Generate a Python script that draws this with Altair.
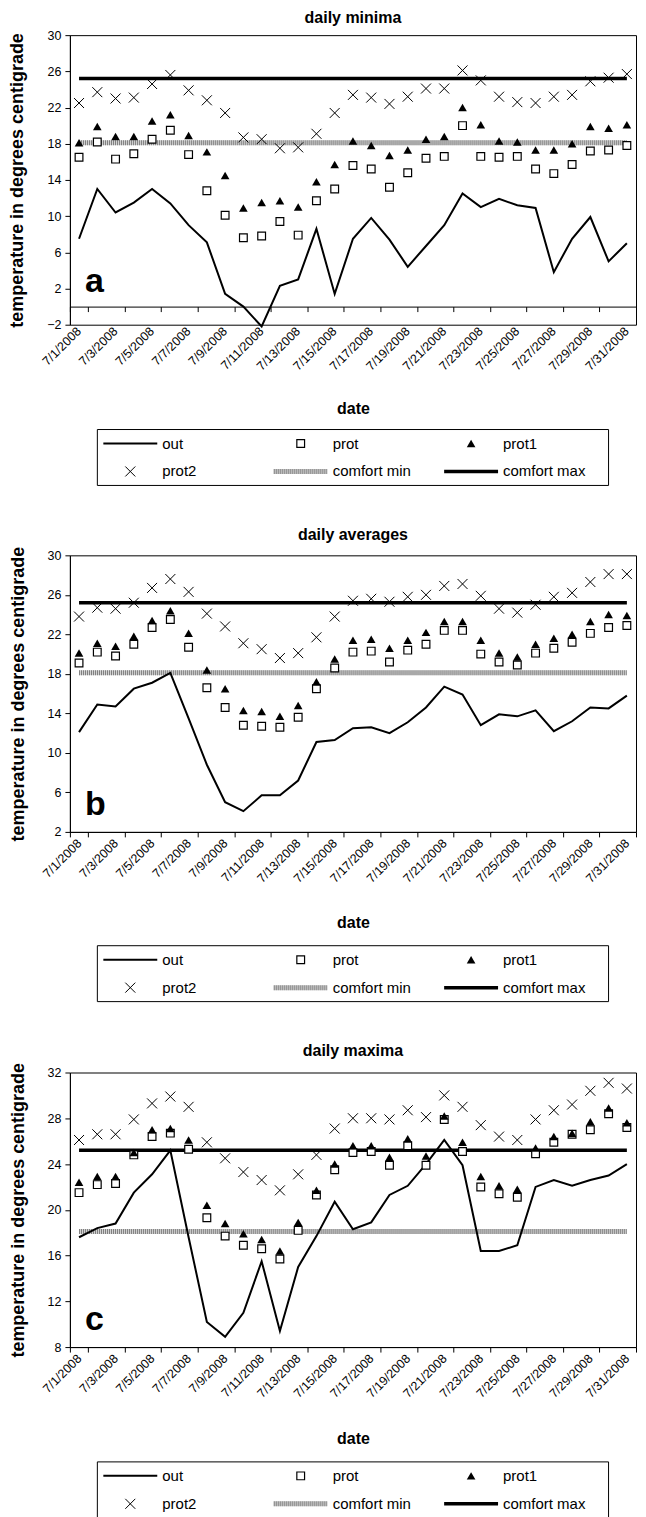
import altair as alt
import pandas as pd

FONT = "Liberation Sans"

dates = ["7/1/2008", "7/2/2008", "7/3/2008", "7/4/2008", "7/5/2008", "7/6/2008", "7/7/2008",
         "7/8/2008", "7/9/2008", "7/10/2008", "7/11/2008", "7/12/2008", "7/13/2008", "7/14/2008",
         "7/15/2008", "7/16/2008", "7/17/2008", "7/18/2008", "7/19/2008", "7/20/2008", "7/21/2008",
         "7/22/2008", "7/23/2008", "7/24/2008", "7/25/2008", "7/26/2008", "7/27/2008", "7/28/2008",
         "7/29/2008", "7/30/2008", "7/31/2008"]
label_dates = ["7/1/2008", "7/3/2008", "7/5/2008", "7/7/2008", "7/9/2008", "7/11/2008", "7/13/2008",
               "7/15/2008", "7/17/2008", "7/19/2008", "7/21/2008", "7/23/2008", "7/25/2008",
               "7/27/2008", "7/29/2008", "7/31/2008"]

COMFORT_MIN = 18.1
COMFORT_MAX = 25.2

# daily minima
min_out = [7.5, 13.0, 10.4, 11.5, 13.0, 11.4, 9.0, 7.1, 1.4, 0.0, -2.2, 2.3, 3.0, 8.6, 1.4, 7.5,
           9.8, 7.4, 4.4, 6.7, 9.0, 12.5, 11.0, 11.9, 11.2, 10.9, 3.8, 7.5, 9.9, 5.0, 7.0]
min_prot = [16.5, 18.2, 16.3, 16.9, 18.5, 19.5, 16.8, 12.8, 10.1, 7.6, 7.8, 9.4, 7.9, 11.7, 13.0, 15.6,
            15.2, 13.2, 14.8, 16.4, 16.6, 20.0, 16.6, 16.5, 16.6, 15.2, 14.7, 15.7, 17.2, 17.3, 17.8]
min_prot1 = [18.1, 19.9, 18.8, 18.8, 20.5, 21.2, 18.9, 17.1, 14.5, 10.9, 11.5, 11.7, 11.0, 13.8, 15.7, 18.3,
             17.8, 16.7, 17.3, 18.5, 18.8, 22.0, 20.1, 18.3, 18.2, 17.3, 17.3, 18.0, 19.9, 19.7, 20.1]
min_prot2 = [22.5, 23.7, 23.0, 23.1, 24.6, 25.6, 23.9, 22.8, 21.4, 18.7, 18.5, 17.5, 17.6, 19.1, 21.4, 23.4,
             23.1, 22.4, 23.2, 24.1, 24.1, 26.1, 25.0, 23.2, 22.6, 22.5, 23.2, 23.4, 24.9, 25.3, 25.7]

# daily averages
avg_out = [12.1, 14.9, 14.7, 16.5, 17.1, 18.1, 13.5, 8.8, 5.0, 4.1, 5.7, 5.7, 7.2, 11.1, 11.3, 12.5,
           12.6, 12.0, 13.1, 14.6, 16.7, 15.9, 12.8, 13.9, 13.7, 14.3, 12.2, 13.2, 14.6, 14.5, 15.8]
avg_prot = [19.1, 20.2, 19.8, 21.0, 22.7, 23.5, 20.7, 16.6, 14.6, 12.8, 12.7, 12.6, 13.6, 16.5, 18.6, 20.2,
            20.3, 19.2, 20.4, 21.0, 22.4, 22.4, 20.0, 19.2, 18.9, 20.1, 20.6, 21.2, 22.1, 22.7, 22.9]
avg_prot1 = [20.1, 21.1, 20.8, 21.8, 23.4, 24.4, 22.1, 18.4, 16.5, 14.3, 14.2, 13.7, 14.8, 17.2, 19.5, 21.4,
             21.5, 20.6, 21.4, 22.2, 23.3, 23.3, 21.4, 20.1, 19.7, 21.0, 21.6, 22.0, 23.3, 24.0, 23.9]
avg_prot2 = [23.8, 24.7, 24.6, 25.2, 26.7, 27.6, 26.3, 24.1, 22.8, 21.1, 20.5, 19.6, 20.1, 21.7, 23.8, 25.4,
             25.6, 25.3, 25.8, 26.0, 26.9, 27.1, 25.9, 24.6, 24.2, 25.0, 25.8, 26.2, 27.3, 28.1, 28.1]

# daily maxima
max_out = [17.6, 18.4, 18.8, 21.5, 23.1, 25.2, 17.6, 10.2, 8.9, 11.0, 15.5, 9.4, 15.0, 17.7, 20.7, 18.3,
           18.9, 21.3, 22.1, 24.0, 26.1, 23.9, 16.4, 16.4, 16.9, 22.0, 22.6, 22.1, 22.6, 23.0, 24.0]
max_prot = [21.5, 22.2, 22.3, 24.8, 26.4, 26.7, 25.3, 19.3, 17.7, 16.9, 16.6, 15.7, 18.2, 21.3, 23.5, 25.0,
            25.1, 23.9, 25.6, 23.9, 27.9, 25.1, 22.0, 21.4, 21.1, 24.9, 25.9, 26.6, 27.0, 28.4, 27.2]
max_prot1 = [22.4, 22.9, 22.9, 25.0, 27.0, 27.1, 26.1, 20.4, 18.8, 17.9, 17.4, 16.4, 18.9, 21.7, 24.0, 25.6,
             25.6, 24.6, 26.2, 24.7, 28.2, 25.9, 22.9, 22.1, 21.8, 25.4, 26.4, 26.7, 27.7, 28.9, 27.6]
max_prot2 = [26.1, 26.6, 26.6, 27.9, 29.3, 29.9, 29.0, 25.9, 24.5, 23.3, 22.6, 21.7, 23.1, 24.8, 27.1, 28.0,
             28.0, 27.9, 28.7, 28.1, 30.0, 29.0, 27.4, 26.4, 26.1, 27.9, 28.7, 29.2, 30.4, 31.1, 30.6]

legend_names = ["out", "prot", "prot1", "prot2", "comfort min", "comfort max"]
legend_cols = [0, 1, 2, 0, 1, 2]
legend_rows = [0, 0, 0, 1, 1, 1]

PW = 567          # plot width
LEG_COLW = 170.67  # legend column width
LH = 56           # legend height

CROSS = "M-1,-1L1,1M-1,1L1,-1"
CMIN_BASE = "#d2d2d2"
CMIN_DOTS = "#808080"


def main_panel(title, letter, letter_v, out, prot, prot1, prot2, ydom, yvals, height,
               date_pad, zero_axis):
    df = pd.DataFrame({"date": dates, "out": out, "prot": prot, "prot1": prot1, "prot2": prot2})
    cdf = pd.DataFrame({"date": [dates[0], dates[-1]],
                        "cmin": [COMFORT_MIN, COMFORT_MIN], "cmax": [COMFORT_MAX, COMFORT_MAX]})
    ldf = pd.DataFrame({"date": [dates[0]], "v": [letter_v], "t": [letter]})

    xscale = alt.Scale(type="band", domain=dates, paddingInner=0, paddingOuter=0)
    yscale = alt.Scale(domain=ydom, nice=False, zero=False)
    lab = dict(values=label_dates, labelAngle=-45, labelAlign="right", labelBaseline="middle",
               labelFont=FONT, labelFontSize=12.5, labelColor="black", labelPadding=4,
               title="date", titleFont=FONT, titleFontSize=16, titleFontWeight="bold",
               titleColor="black", titlePadding=date_pad, grid=False, orient="bottom")
    if zero_axis:
        xaxis = alt.Axis(ticks=False, domain=False, **lab)
    else:
        xaxis = alt.Axis(ticks=True, tickBand="extent", tickSize=5, tickColor="black",
                         domain=True, domainColor="black", **lab)
    X_lab = alt.X("date:N", scale=xscale, axis=xaxis)
    X = alt.X("date:N", scale=xscale, axis=None) if zero_axis else X_lab
    yaxis = alt.Axis(values=yvals, title="temperature in degrees centigrade", titleFont=FONT,
                     titleFontSize=18, titleFontWeight="bold", titleColor="black", titlePadding=20,
                     labelFont=FONT, labelFontSize=12.5, labelColor="black", labelPadding=4,
                     tickSize=5, tickColor="black", domainColor="black", grid=False)

    def Y(f):
        return alt.Y(f"{f}:Q", scale=yscale, axis=yaxis)

    base = alt.Chart(df)
    cbase = alt.Chart(cdf)
    layers = [
        cbase.mark_line(color=CMIN_BASE, strokeWidth=5).encode(x=X_lab, y=Y("cmin")),
        cbase.mark_line(color=CMIN_DOTS, strokeWidth=5, strokeDash=[1, 1]).encode(x=X, y=Y("cmin")),
        cbase.mark_line(color="black", strokeWidth=3.5).encode(x=X, y=Y("cmax")),
        base.mark_line(color="black", strokeWidth=2).encode(x=X, y=Y("out")),
        base.mark_point(shape="square", filled=True, fill="white", stroke="black",
                        strokeWidth=1.2, size=60, opacity=1).encode(x=X, y=Y("prot")),
        base.mark_point(shape="triangle-up", filled=True, color="black", size=75,
                        opacity=1).encode(x=X, y=Y("prot1")),
        base.mark_point(shape=CROSS, filled=False, stroke="black", strokeWidth=1,
                        size=100, opacity=1).encode(x=X, y=Y("prot2")),
        alt.Chart(ldf).mark_text(align="left", baseline="alphabetic", dx=6, font=FONT,
                                 fontSize=34, fontWeight="bold", color="black").encode(
            x=X, y=Y("v"), text="t:N"),
    ]
    if zero_axis:
        zero_off = height * (0 - ydom[0]) / (ydom[1] - ydom[0])
        zaxis = alt.Axis(orient="bottom", offset=-zero_off, labels=False, title="",
                         values=label_dates, tickBand="extent", tickSize=5, tickColor="black",
                         domain=True, domainColor="black", grid=False)
        layers.append(base.mark_point(opacity=0).encode(
            x=alt.X("date:N", scale=xscale, axis=zaxis), y=Y("out")))
    ch = alt.layer(*layers).properties(
        width=PW, height=height,
        title=alt.TitleParams(title, font=FONT, fontSize=16, fontWeight="bold", color="black",
                              offset=3, anchor="middle"))
    if zero_axis:
        ch = ch.resolve_axis(x="independent")
    return ch


def legend_panel():
    leg = pd.DataFrame({"name": legend_names, "col": legend_cols, "row": legend_rows})
    leg["sx"] = leg["col"] + 33 / LEG_COLW
    leg["lx"] = leg["col"] + 65 / LEG_COLW
    leg["x1"] = leg["sx"] - 27 / LEG_COLW
    leg["x2"] = leg["sx"] + 27 / LEG_COLW
    leg["ry"] = leg["row"] + 0.5
    m = (PW - 3 * LEG_COLW) / 2 / LEG_COLW
    xs = alt.Scale(domain=[-m, 3 + m], nice=False, zero=False)
    ys = alt.Scale(domain=[0, 2], reverse=True, nice=False, zero=False)
    box = pd.DataFrame({"x0": [0], "x1": [3], "y0": [0], "y1": [2]})
    b = alt.Chart(leg)

    def sel(n):
        return alt.datum.name == n

    lx = alt.X("x1:Q", scale=xs, axis=None)
    lx2 = alt.X2("x2:Q")
    ly = alt.Y("ry:Q", scale=ys, axis=None)
    px = alt.X("sx:Q", scale=xs, axis=None)
    layers = [
        alt.Chart(box).mark_rect(fillOpacity=0, stroke="black", strokeWidth=1).encode(
            x=alt.X("x0:Q", scale=xs, axis=None), x2="x1:Q",
            y=alt.Y("y0:Q", scale=ys, axis=None), y2="y1:Q"),
        b.transform_filter(sel("out")).mark_rule(color="black", strokeWidth=2).encode(x=lx, x2=lx2, y=ly),
        b.transform_filter(sel("comfort min")).mark_rule(color=CMIN_BASE, strokeWidth=5).encode(x=lx, x2=lx2, y=ly),
        b.transform_filter(sel("comfort min")).mark_rule(color=CMIN_DOTS, strokeWidth=5, strokeDash=[1, 1]).encode(x=lx, x2=lx2, y=ly),
        b.transform_filter(sel("comfort max")).mark_rule(color="black", strokeWidth=3.5).encode(x=lx, x2=lx2, y=ly),
        b.transform_filter(sel("prot")).mark_point(shape="square", filled=True, fill="white", stroke="black",
                                                   strokeWidth=1.2, size=60, opacity=1).encode(x=px, y=ly),
        b.transform_filter(sel("prot1")).mark_point(shape="triangle-up", filled=True, color="black", size=75,
                                                    opacity=1).encode(x=px, y=ly),
        b.transform_filter(sel("prot2")).mark_point(shape=CROSS, filled=False, stroke="black", strokeWidth=1,
                                                    size=100, opacity=1).encode(x=px, y=ly),
        b.mark_text(align="left", baseline="middle", font=FONT, fontSize=15, color="black").encode(
            x=alt.X("lx:Q", scale=xs, axis=None), y=ly, text="name:N"),
    ]
    return alt.layer(*layers).properties(width=PW, height=LH,
                                         view=alt.ViewBackground(stroke="transparent"))


pa = alt.vconcat(
    main_panel("daily minima", "a", 1.6, min_out, min_prot, min_prot1, min_prot2,
               [-2, 30], [-2, 2, 6, 10, 14, 18, 22, 26, 30], 290, 28, True),
    legend_panel(), spacing=11)
pb = alt.vconcat(
    main_panel("daily averages", "b", 3.7, avg_out, avg_prot, avg_prot1, avg_prot2,
               [2, 30], [2, 6, 10, 14, 18, 22, 26, 30], 277, 30, False),
    legend_panel(), spacing=13)
pc = alt.vconcat(
    main_panel("daily maxima", "c", 9.5, max_out, max_prot, max_prot1, max_prot2,
               [8, 32], [8, 12, 16, 20, 24, 28, 32], 275, 31, False),
    legend_panel(), spacing=13)

chart = alt.vconcat(pa, pb, pc, spacing=40).properties(padding=0, background="white").configure_view(
    stroke="black", strokeWidth=1)

chart.save("out.html", embed_options={"renderer": "svg", "actions": False})
